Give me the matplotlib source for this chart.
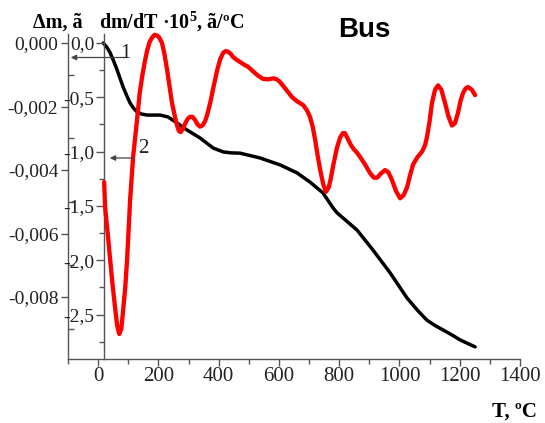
import matplotlib
matplotlib.use("Agg")
import matplotlib.pyplot as plt
from matplotlib.ticker import FixedLocator, FuncFormatter, MultipleLocator

# ---- data ----
T_mass = [17, 28, 40, 52, 63, 73, 83, 95, 106, 118, 129, 145, 163, 185, 206, 232, 262, 295, 338,
          382, 415, 440, 471, 537, 604, 660, 703, 746, 780, 793, 859, 912, 969, 1025, 1060,
          1091, 1120, 1145, 1175, 1201, 1230, 1251]
dm = [0.0, -0.00012, -0.00031, -0.00058, -0.00085, -0.00112, -0.00139, -0.00166, -0.00189,
      -0.00206, -0.00217, -0.00224, -0.00227, -0.00227, -0.00227, -0.00233, -0.00252,
      -0.00274, -0.00299, -0.00331, -0.00343, -0.00346, -0.00347, -0.00362, -0.00384,
      -0.00409, -0.00438, -0.00472, -0.0052, -0.00535, -0.00589, -0.00652, -0.00724,
      -0.00803, -0.00842, -0.00873, -0.00891, -0.00904, -0.0092, -0.00935, -0.00948, -0.00957]

T_dtg = [20, 23, 32, 40, 48, 56, 63, 70, 77, 83, 90, 96, 106, 116, 129, 138, 146, 155, 163, 171,
         179, 187, 195, 203, 212, 220, 229, 245, 255, 262, 268, 274, 281, 289, 297, 305, 313,
         322, 330, 338, 346, 355, 363, 372, 384, 395, 405, 415, 423, 431, 440, 448, 460, 471,
         485, 498, 514, 530, 547, 564, 581, 593, 604, 624, 644, 662, 680, 693, 703, 712, 720,
         728, 737, 747, 756, 765, 772, 780, 792, 803, 812, 819, 828, 839, 849, 859, 872, 886,
         903, 915, 926, 939, 952, 963, 975, 988, 1002, 1014, 1025, 1035, 1045, 1060, 1075,
         1085, 1091, 1100, 1108, 1118, 1128, 1139, 1151, 1163, 1174, 1184, 1194, 1203, 1211,
         1219, 1227, 1240, 1251]
dtg = [-1.28, -1.51, -1.76, -2.0, -2.23, -2.43, -2.6, -2.68, -2.63, -2.46, -2.25, -2.0,
       -1.45, -1.05, -0.71, -0.46, -0.31, -0.17, -0.064, 0.01, 0.05, 0.075, 0.07, 0.05,
       0.0, -0.1, -0.25, -0.55, -0.68, -0.76, -0.81, -0.82, -0.79, -0.74, -0.7, -0.68,
       -0.68, -0.71, -0.75, -0.77, -0.76, -0.72, -0.65, -0.55, -0.39, -0.25, -0.15, -0.09,
       -0.075, -0.08, -0.1, -0.13, -0.155, -0.175, -0.2, -0.22, -0.26, -0.3, -0.33,
       -0.335, -0.325, -0.335, -0.36, -0.43, -0.50, -0.54, -0.57, -0.62, -0.68, -0.77,
       -0.89, -1.03, -1.17, -1.3, -1.37, -1.33, -1.25, -1.13, -0.97, -0.87, -0.83, -0.83,
       -0.88, -0.94, -0.98, -1.01, -1.06, -1.12, -1.2, -1.24, -1.24, -1.2, -1.17, -1.19,
       -1.26, -1.36, -1.43, -1.4, -1.33, -1.22, -1.12, -1.05, -1.0, -0.94, -0.87, -0.72,
       -0.55, -0.43, -0.39, -0.43, -0.55, -0.68, -0.76, -0.74, -0.645, -0.53, -0.46,
       -0.42, -0.405, -0.43, -0.48]

x_ticks = [0, 200, 400, 600, 800, 1000, 1200, 1400]
dm_ticks = [0.0, -0.002, -0.004, -0.006, -0.008]
dm_labels = ["0,000", "-0,002", "-0,004", "-0,006", "-0,008"]
dtg_ticks = [0.0, -0.5, -1.0, -1.5, -2.0, -2.5]
dtg_labels = ["0,0", "-0,5", "-1,0", "-1,5", "-2,0", "-2,5"]

plt.rcParams['font.family'] = ['Liberation Serif', 'DejaVu Serif']
plt.rcParams['mathtext.fontset'] = 'custom'
plt.rcParams['mathtext.rm'] = 'Liberation Serif'
plt.rcParams['mathtext.bf'] = 'Liberation Serif:bold'

W, H = 545, 423
fig = plt.figure(figsize=(W / 100, H / 100), dpi=100)
L, R, B, Tp = 68, 520, 359, 34
ax = fig.add_axes([L / W, 1 - B / H, (R - L) / W, (B - Tp) / H])
ax2 = ax.twinx()

spc = '#555555'
tc = '#222222'

# main (mass) axis
ax.set_xlim(-100, 1400)
ax.set_ylim(-(B - 43) / 31750, (43 - Tp) / 31750)
ax.plot(T_mass, dm, color='black', lw=2.5, solid_joinstyle='round', solid_capstyle='round', zorder=3)
for s in ['top', 'right']:
    ax.spines[s].set_visible(False)
for s in ['left', 'bottom']:
    ax.spines[s].set_color(spc)
    ax.spines[s].set_linewidth(1.0)
ax.xaxis.set_major_locator(FixedLocator(x_ticks))
ax.xaxis.set_minor_locator(MultipleLocator(100))
ax.yaxis.set_major_locator(FixedLocator(dm_ticks))
ax.yaxis.set_major_formatter(FuncFormatter(lambda v, p: dm_labels[dm_ticks.index(round(v, 4))] if round(v, 4) in dm_ticks else ""))
ax.yaxis.set_minor_locator(FixedLocator([-0.001, -0.003, -0.005, -0.007, -0.009]))
ax.tick_params(axis='x', which='major', direction='out', length=5, width=1, color=spc,
               labelsize=15, labelcolor=tc, pad=1)
ax.tick_params(axis='x', which='minor', direction='out', length=3.5, width=1, color=spc)
ax.tick_params(axis='y', which='major', direction='out', length=5, width=1, color=spc,
               labelsize=14, labelcolor=tc, pad=2)
ax.tick_params(axis='y', which='minor', direction='in', length=4, width=1, color=spc)

# derivative axis
ax2.set_ylim(-(B - 43) / 108.6, (43 - Tp) / 108.6)
ax2.plot(T_dtg, dtg, color='#ff0000', lw=3.1, solid_joinstyle='round', solid_capstyle='round',
         zorder=4, clip_on=False)
ax2.yaxis.tick_left()
ax2.spines['left'].set_position(('data', 20))
ax2.spines['left'].set_visible(True)
ax2.spines['left'].set_color(spc)
ax2.spines['left'].set_linewidth(1.0)
for s in ['top', 'right', 'bottom']:
    ax2.spines[s].set_visible(False)
ax2.yaxis.set_major_locator(FixedLocator(dtg_ticks))
ax2.yaxis.set_major_formatter(FuncFormatter(lambda v, p: dtg_labels[dtg_ticks.index(round(v, 2))] if round(v, 2) in dtg_ticks else ""))
ax2.yaxis.set_minor_locator(FixedLocator([-0.25, -0.75, -1.25, -1.75, -2.25, -2.75]))
ax2.tick_params(axis='y', which='major', direction='out', length=6, width=1, color=spc,
                labelsize=14, labelcolor=tc, pad=1)
ax2.tick_params(axis='y', which='minor', direction='out', length=3.5, width=1, color=spc)

# arrows and curve numbers
def px(x, y):
    return (x / W, 1 - y / H)

fig.add_artist(matplotlib.patches.FancyArrowPatch(px(128, 57.5), px(68, 57.5), transform=fig.transFigure,
               arrowstyle='-|>', mutation_scale=8, color='#444444', lw=0.9))
fig.text(*px(120, 58), "1", fontsize=15, color=tc, ha='left', va='baseline')
fig.add_artist(matplotlib.patches.FancyArrowPatch(px(137, 158), px(107, 158), transform=fig.transFigure,
               arrowstyle='-|>', mutation_scale=8, color='#444444', lw=0.9))
fig.text(*px(138, 153), "2", fontsize=15, color=tc, ha='left', va='baseline')

# axis titles
fig.text(*px(33, 28), "Δm, ã", fontsize=14.5, fontweight='bold', color='black', ha='left', va='baseline')
fig.text(*px(99, 28), r"dm/dT ·10$^{\mathbf{5}}$, ã/ºC", fontsize=14.5, fontweight='bold', color='black',
         ha='left', va='baseline')
fig.text(*px(364, 37), "Bus", fontsize=20, fontweight='bold', color='black', ha='center', va='baseline',
         family=['Liberation Sans Narrow', 'Liberation Sans', 'DejaVu Sans'])
fig.text(*px(537, 417), "T, ºC", fontsize=15, fontweight='bold', color='black', ha='right', va='baseline')

fig.savefig("out.png", dpi=100)
